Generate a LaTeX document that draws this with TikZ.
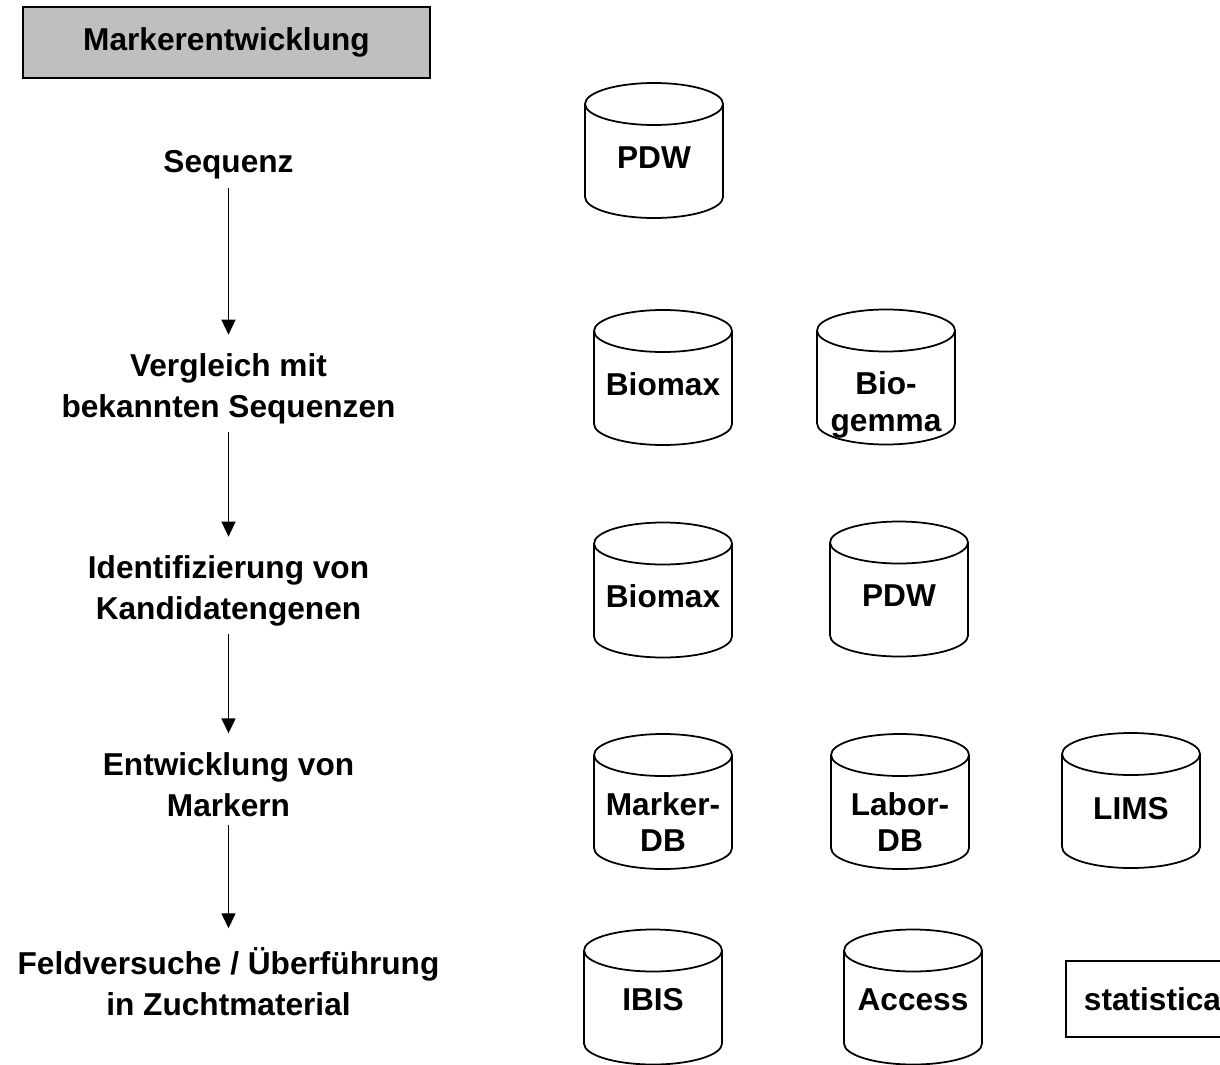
\documentclass[tikz,border=0pt]{standalone}
\usepackage{fontspec}
\setmainfont{Liberation Sans}
\usepackage{tikz}
\usetikzlibrary{arrows.meta, positioning}

\definecolor{titlegray}{gray}{0.75}

\begin{document}
\begin{tikzpicture}[
    font=\bfseries\fontsize{18}{23}\selectfont,
    stage/.style={align=center, inner sep=0pt},
    flow/.style={-{Triangle[length=0.3cm, width=0.28cm]}, line width=0.8pt, shorten <=0.16cm, shorten >=0.38cm},
    titlebox/.style={rectangle, draw=black, line width=1.1pt, fill=titlegray, minimum width=8.14cm, minimum height=1.42cm},
    swbox/.style={rectangle, draw=black, line width=1pt, fill=white, minimum height=1.52cm, inner xsep=0.36cm},
    dbline/.style={draw=black, line width=1pt, fill=white},
    dbtext/.style={align=center, inner sep=0pt, font=\bfseries\fontsize{18}{21}\selectfont},
    pics/dbcyl/.style 2 args={code={
        \draw[dbline] (-1.38,0.93) -- (-1.38,-0.93) arc[start angle=180, end angle=360, x radius=1.38, y radius=0.42] -- (1.38,0.93);
        \draw[dbline] (0,0.93) ellipse[x radius=1.38, y radius=0.42];
        \node[dbtext] (-txt) at (0,#2) {#1};
    }},
]
\useasboundingbox (0,0) rectangle (24.4,-21.28);

% Title
\node[titlebox] (title) at (4.53,-0.85) {Markerentwicklung};

% Steps
\node[stage] (seq) at (4.57,-3.30) {Sequenz};
\node[stage] (vgl) at (4.57,-7.78) {Vergleich mit\\bekannten Sequenzen};
\node[stage] (ident) at (4.57,-11.82) {Identifizierung von\\Kandidatengenen};
\node[stage] (entw) at (4.57,-15.69) {Entwicklung von\\Markern};
\node[stage] (feld) at (4.57,-19.63) {Feldversuche / Überführung\\in Zuchtmaterial};

% Flow
\draw[flow] (seq) -- (vgl);
\draw[flow] (vgl) -- (ident);
\draw[flow] (ident) -- (entw);
\draw[flow] (entw) -- (feld);

% Databases
\pic (pdwA) at (13.08,-3.01) {dbcyl={PDW}{-0.14}};
\pic (biomaxA) at (13.26,-7.55) {dbcyl={Biomax}{-0.13}};
\pic (biogemma) at (17.72,-7.54) {dbcyl={Bio-\\gemma}{-0.56}};
\pic (biomaxB) at (13.26,-11.80) {dbcyl={Biomax}{-0.13}};
\pic (pdwB) at (17.98,-11.78) {dbcyl={PDW}{-0.14}};
\pic (markerdb) at (13.26,-16.03) {dbcyl={Marker-\\DB}{-0.41}};
\pic (labordb) at (18.00,-16.03) {dbcyl={Labor-\\DB}{-0.41}};
\pic (lims) at (22.62,-16.01) {dbcyl={LIMS}{-0.16}};
\pic (ibis) at (13.06,-19.94) {dbcyl={IBIS}{-0.06}};
\pic (access) at (18.26,-19.94) {dbcyl={Access}{-0.06}};

% Software
\node[swbox] (statistica) at (23.05,-19.98) {statistica};

\end{tikzpicture}
\end{document}
